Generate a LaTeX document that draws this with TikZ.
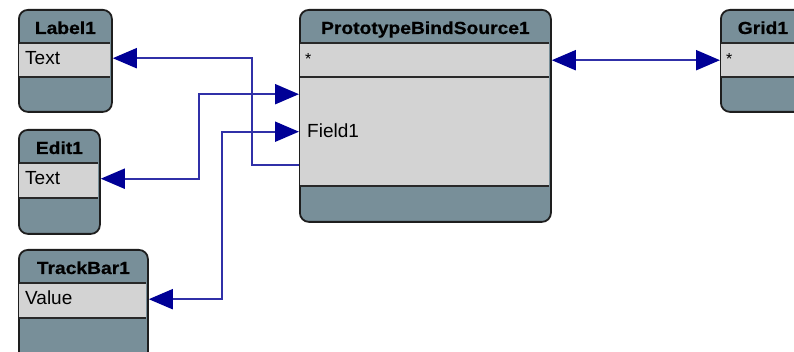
\documentclass[tikz,border=0pt]{standalone}
\usepackage{fontspec}
\setmainfont{Liberation Sans}
\newfontfamily\titlefont[FakeStretch=1.1, FakeBold=0.6]{Liberation Sans Bold}
\usetikzlibrary{arrows.meta}

\definecolor{headfill}{RGB}{120,143,153}
\definecolor{rowfill}{RGB}{211,211,211}
\definecolor{boxline}{RGB}{30,30,30}
\definecolor{sepcol}{RGB}{40,40,40}
\definecolor{linkcol}{RGB}{48,48,168}
\definecolor{tipcol}{RGB}{0,0,150}

\tikzset{
  classbox/.style={draw=boxline, line width=1.8pt, fill=headfill,
    rounded corners=9pt, inner sep=0pt, anchor=north west},
  rowcell/.style={fill=rowfill, inner sep=0pt, anchor=north west},
  sepline/.style={draw=sepcol, line width=2pt},
  titletext/.style={font=\titlefont\fontsize{17.5}{20}\selectfont,
    anchor=base, inner sep=0pt},
  rowtext/.style={font=\fontsize{19}{22}\selectfont, anchor=base west, inner sep=0pt},
  link/.style={draw=linkcol, line width=2pt},
  bindtip/.tip={Triangle[length=24pt, width=20pt, fill=tipcol, color=tipcol]},
}

\begin{document}
\begin{tikzpicture}[x=1pt, y=-1pt]
\useasboundingbox[fill=white] (0,0) rectangle (794,352);

% ---- Label1 ----
\node[classbox, minimum width=93pt, minimum height=102pt] (label1) at (18,9) {};
\node[rowcell, minimum width=91pt, minimum height=34pt] (label1-text) at (19,43) {};
\draw[sepline] (label1-text.north west) -- (label1-text.north east);
\draw[sepline] (label1-text.south west) -- (label1-text.south east);
\node[titletext] (label1-title) at ([yshift=-25pt]label1.north) {Label1};
\node[rowtext] (label1-lbl) at ([xshift=6pt, yshift=-22pt]label1-text.north west) {Text};
\coordinate (label1-port) at ([yshift=2pt]label1.east |- label1-text);

% ---- Edit1 ----
\node[classbox, minimum width=81pt, minimum height=104pt] (edit1) at (18,129) {};
\node[rowcell, minimum width=79pt, minimum height=35pt] (edit1-text) at (19,163) {};
\draw[sepline] (edit1-text.north west) -- (edit1-text.north east);
\draw[sepline] (edit1-text.south west) -- (edit1-text.south east);
\node[titletext] (edit1-title) at ([yshift=-25pt]edit1.north) {Edit1};
\node[rowtext] (edit1-lbl) at ([xshift=6pt, yshift=-22pt]edit1-text.north west) {Text};
\coordinate (edit1-port) at ([yshift=2pt]edit1.east |- edit1-text);

% ---- TrackBar1 ----
\node[classbox, minimum width=129pt, minimum height=120pt] (track1) at (18,249) {};
\node[rowcell, minimum width=127pt, minimum height=35pt] (track1-value) at (19,283) {};
\draw[sepline] (track1-value.north west) -- (track1-value.north east);
\draw[sepline] (track1-value.south west) -- (track1-value.south east);
\node[titletext] (track1-title) at ([yshift=-25pt]track1.north) {TrackBar1};
\node[rowtext] (track1-lbl) at ([xshift=6pt, yshift=-22pt]track1-value.north west) {Value};
\coordinate (track1-port) at ([yshift=1.5pt]track1.east |- track1-value);

% ---- PrototypeBindSource1 ----
\node[classbox, minimum width=251pt, minimum height=212pt] (pbs) at (299,9) {};
\node[rowcell, minimum width=249pt, minimum height=34pt] (pbs-star) at (300,43) {};
\node[rowcell, minimum width=249pt, minimum height=109pt] (pbs-body) at (300,77) {};
\draw[sepline] (pbs-star.north west) -- (pbs-star.north east);
\draw[sepline] (pbs-body.north west) -- (pbs-body.north east);
\draw[sepline] (pbs-body.south west) -- (pbs-body.south east);
\node[titletext] (pbs-title) at ([yshift=-25pt]pbs.north) {PrototypeBindSource1};
\node[rowtext, font=\fontsize{16}{19}\selectfont] (pbs-starlbl) at ([xshift=5pt, yshift=-22pt]pbs-star.north west) {*};
\node[rowtext] (pbs-field) at ([xshift=7pt, yshift=-61pt]pbs-body.north west) {Field1};
\coordinate (pbs-p1) at ([yshift=37.5pt]pbs.west |- pbs-body);
\coordinate (pbs-p2) at (pbs.west |- pbs-body);
\coordinate (pbs-p3) at ([yshift=-33.5pt]pbs.west |- pbs-body);
\coordinate (pbs-out) at (pbs.east |- pbs-star);

% ---- Grid1 ----
\node[classbox, minimum width=84pt, minimum height=102pt] (grid1) at (720,9) {};
\node[rowcell, minimum width=82pt, minimum height=34pt] (grid1-star) at (721,43) {};
\draw[sepline] (grid1-star.north west) -- (grid1-star.north east);
\draw[sepline] (grid1-star.south west) -- (grid1-star.south east);
\node[titletext] (grid1-title) at ([yshift=-25pt]grid1.north) {Grid1};
\node[rowtext, font=\fontsize{16}{19}\selectfont] (grid1-starlbl) at ([xshift=5pt, yshift=-22pt]grid1-star.north west) {*};
\coordinate (grid1-port) at (grid1.west |- grid1-star);

% ---- bindings ----
\draw[link, -{bindtip}] (pbs-p3) -- ([xshift=-47pt]pbs-p3) |- (label1-port);
\draw[link, {bindtip}-{bindtip}] (edit1-port) -| ([xshift=-100pt]pbs-p1) -- (pbs-p1);
\draw[link, {bindtip}-{bindtip}] (track1-port) -| ([xshift=-77pt]pbs-p2) -- (pbs-p2);
\draw[link, {bindtip}-{bindtip}] (pbs-out) -- (grid1-port);
\end{tikzpicture}
\end{document}
